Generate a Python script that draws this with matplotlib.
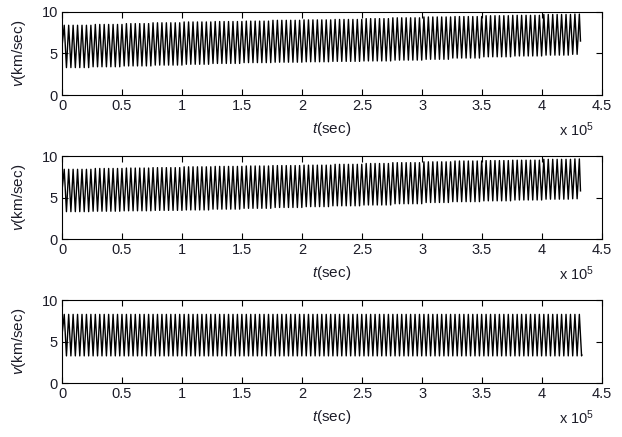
import numpy as np
import matplotlib
matplotlib.use("Agg")
import matplotlib.pyplot as plt
from matplotlib.ticker import FuncFormatter

plt.rcParams['font.family'] = ['Liberation Sans', 'DejaVu Sans']
plt.rcParams['mathtext.fontset'] = 'custom'
plt.rcParams['mathtext.rm'] = 'Liberation Sans'
plt.rcParams['mathtext.it'] = 'Liberation Sans:italic'

# envelope of the speed oscillation, read every 0.25e5 s
t_knots = [0.0, 0.25e5, 0.5e5, 0.75e5, 1.0e5, 1.25e5, 1.5e5, 1.75e5, 2.0e5,
           2.25e5, 2.5e5, 2.75e5, 3.0e5, 3.25e5, 3.5e5, 3.75e5, 4.0e5, 4.25e5]
peak_1 = [8.4, 8.5, 8.6, 8.7, 8.8, 8.85, 8.9, 9.0, 9.05,
          9.1, 9.2, 9.3, 9.4, 9.45, 9.55, 9.6, 9.7, 9.75]
trough_1 = [3.3, 3.4, 3.5, 3.6, 3.7, 3.8, 3.9, 3.95, 4.0,
            4.05, 4.1, 4.2, 4.3, 4.45, 4.6, 4.7, 4.8, 4.9]
peak_2 = [8.4, 8.5, 8.55, 8.6, 8.7, 8.75, 8.8, 8.85, 8.9,
          9.0, 9.1, 9.2, 9.3, 9.4, 9.45, 9.5, 9.6, 9.65]
trough_2 = [3.3, 3.35, 3.4, 3.45, 3.5, 3.6, 3.7, 3.8, 3.9,
            4.0, 4.1, 4.25, 4.4, 4.5, 4.6, 4.7, 4.8, 4.85]
peak_3 = [8.3] * 18
trough_3 = [3.3] * 18
t_end = [4.32e5, 4.32e5, 4.33e5]
v_end = [6.5, 5.8, 3.4]
period = 3700.0  # seconds per oscillation

xticks = [0, 0.5e5, 1e5, 1.5e5, 2e5, 2.5e5, 3e5, 3.5e5, 4e5, 4.5e5]
yticks = [0, 5, 10]

text_col = '#1c1c28'


def wave(peaks, troughs, tend, vend):
    # zigzag through the peaks and troughs, half a period apart
    ts, vs = [], []
    k = 0
    while k * period / 2 < tend:
        t = k * period / 2
        seg = np.searchsorted(t_knots, t, side='right') - 1
        ts.append(t)
        if k == 0:
            vs.append(0.5 * (peaks[0] + troughs[0]))
        elif k % 2 == 1:
            vs.append(peaks[seg])
        else:
            vs.append(troughs[seg])
        k += 1
    ts.append(tend)
    vs.append(vend)
    return np.array(ts), np.array(vs)


fig = plt.figure(figsize=(6.22, 4.37), dpi=100)
bottoms = [0.7826, 0.453, 0.1229]
series = [(peak_1, trough_1), (peak_2, trough_2), (peak_3, trough_3)]

for i, (b, (pk, tr)) in enumerate(zip(bottoms, series)):
    ax = fig.add_axes([0.0997, b, 0.8683, 0.19])
    t, v = wave(pk, tr, t_end[i], v_end[i])
    ax.plot(t, v, color='black', lw=1.0)
    ax.set_xlim(0, 4.5e5)
    ax.set_ylim(0, 10)
    ax.set_xticks(xticks)
    ax.set_yticks(yticks)
    ax.xaxis.set_major_formatter(FuncFormatter(lambda x, p: '%g' % (x / 1e5)))
    ax.tick_params(direction='in', top=True, right=True, length=4, width=0.8,
                   labelsize=10.5, colors='black', labelcolor=text_col, pad=3)
    for s in ax.spines.values():
        s.set_linewidth(0.8)
    ax.set_xlabel(r'$t$(sec)', fontsize=11, color=text_col, labelpad=5)
    ax.set_ylabel(r'$v$(km/sec)', fontsize=11, color=text_col, labelpad=10)
    ax.text(0.985, -0.42, r'x 10$^5$', transform=ax.transAxes, fontsize=10.5,
            color=text_col, ha='right', va='center')

fig.savefig('out.png', dpi=100)
